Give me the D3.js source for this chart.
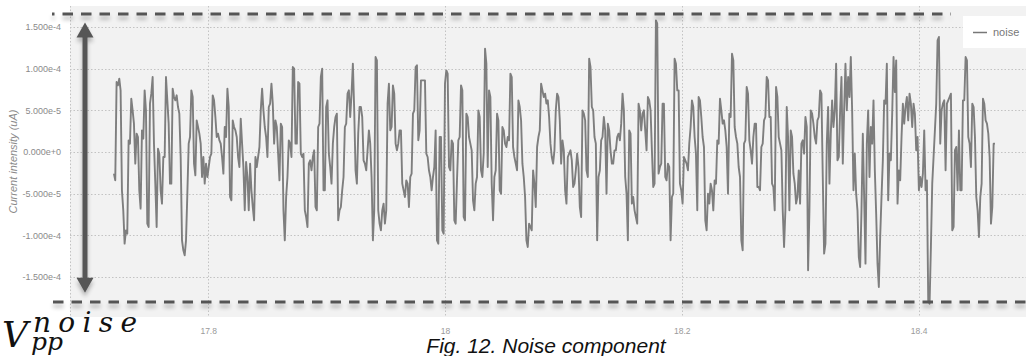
<!DOCTYPE html>
<html><head><meta charset="utf-8">
<script src="https://cdn.jsdelivr.net/npm/d3@7/dist/d3.min.js"></script>
<style>html,body{margin:0;padding:0;background:#fff;}svg{display:block;}</style>
</head><body><svg id="c" width="1026" height="356"></svg>
<script>
// ---- data (current values in units of 1e-5 uA) ----
const seriesName = "noise";
const noiseA = [-2.6,-3.4,8.4,8.0,8.8,7.4,-4.6,-7,-11,-9.4,-9.8,1.4,1,6.4,5,3.4,-1.4,2.2,1.8,-4.6,-6.8,2.6,1.6,7.4,5,-8.6,-9,5.8,7,9,1,-3.8,-9,0.4,-0.2,-4.6,-6.2,-0.6,-0.6,9,6.2,3.4,-3.8,-3.8,7.6,6.6,6.2,6.8,5.4,4.6,-0.6,-10.6,-11.8,-12.4,-10.6,-5,1,1.8,7.4,6.6,-1.4,-2.8,3.8,3,2.2,1,-3,-0.6,-3.8,-1.4,-3,-1.8,-0.6,-0.2,6.8,6.2,4.2,1.8,2.2,1.4,1,-0.6,-2.6,3,1.8,7.6,5.4,-5.4,-5.8,3.8,3,2.6,1.8,-0.6,-1.8,4,1,-1.8,-7,-1.2,-3,-7,-1.4,-4.6,-6.6,-8.2,-0.6,-1.8];
const noiseB = [-0.6,0.6,5,7.6,5,3,1.8,-0.6,5.4,5.8,8.2,5.8,1,3.8,3,-0.2,-3.4,3.4,3,-7,-10.6,-5.4,-3,1.4,1,-0.6,10.2,10,1,1,8.4,8.2,-0.2,-0.6,-0.2,-7,-7.8,-9,-1.4,-1,-2.2,-0.6,0.2,-6.6,-7,3,3.4,9,10,-4.6,-4.6,5.4,6.2,-0.2,-1.8,-3.8,1,3,4.2,4.6,-8.2,-7,-6.6,-4.6,-3,3,3.4,7,7.4,4.2,7,10.6,5,-2.2,-3.8,2.2,5.4,5.4,4.2,-1,-1.4,-2.2,0.2,2.6,1,-3,-10.6,-7,11.4,11,-7,-8.6,-9.4,-7,-6.2,-8.6,-7,5.8,8.2,2.6,3,8,7,1,0.2,1,2.6,2.6,-3.8,-4.6,-5.4];
const noiseC = [-3.4,-3.8,-6.6,-3,-2.6,4.6,5,10.2,10.4,1.4,2.6,8.6,8.6,8.6,8.6,-0.2,-0.6,-2.2,-3,-4.6,-3,-1.8,2.6,-10.6,-11,1.8,1.8,-9.4,-9.8,8.2,9.8,9.4,-1.8,-2.2,1.4,1,-8.2,-8.6,-3.4,1.4,1.8,8,7.4,-7.8,-8.2,4.6,4.2,1.8,1,0.2,-5.8,-7,-3.8,-3,5,4.2,-2.2,-3,-0.2,12.4,10.6,-1.8,7.4,6.6,-3.8,-8.2,-3,-2.2,4.6,3.8,-4.6,-5,3,2.6,1,0.6,1.8,1.4,9.4,9,0.6,-0.6,-1.4,-2.2,6.2,5.4,3.8,-1.4,-3,-5.4,-10.6,-11.4,-8.6,-9,-9.4,-2.2,-3.8,-6.6,0.6,1.8,2.6,8.2,7.4,6.6,7,5.8,6.2,4.2,1,-0.6,-1.4];
const noiseD = [0.2,5,7,6.6,3.8,-1.4,1.4,0.2,-4.6,-6.2,-0.6,-0.2,0.2,-1,-4.2,-3.8,-2.2,-0.2,-1.8,-6.6,-7.8,5,4.6,3.8,-2.2,-3,11.2,10.2,5.4,5,1.8,1,-10.6,-3,-2.2,1.4,1.8,4.2,2.6,-5,3.4,2.6,0.2,-1.4,-1.4,0.2,0.2,1.8,2.2,1.4,3.4,7,5,-3,-5,-10.6,2.6,2.2,-6.2,-5.4,-7,-7.8,-8.6,5.8,5,2.6,4.6,5,2.6,0.2,6.6,6.2,5,0.2,-4.2,-3.8,15.8,15.4,-2.6,-1.8,-1.4,5.8,5.8,-3,-3.4,-1.4,-1.8,-10.6,-5.4,-5,11.2,10.6,7.4,7.4,-3.8,-4.6,-6.2,-0.6,-1,-1.4,-2.2,1,3,6.2,5.4,1.8,-0.2,-7,6.6,6.2,4.2];
const noiseE = [1.8,0.6,-8.2,-9.4,-5,-6.2,-3.8,-4.6,-7,-3.4,-3.8,1.4,1,6.4,5,3.4,3.8,2.6,0.6,-5,4.6,4.2,11.8,11,3,1.8,1,-1.8,-3,-10.6,-11.8,1,1.4,7.8,7,1.4,0.2,-1.4,1.8,3.4,3.4,-4.2,-4.2,-4.6,0.6,1,3.8,4.2,9,8.6,4.2,4.2,-3.8,-4.2,-7,7.8,6.6,1.8,1,0.2,-7,-11.4,-7,5.4,1.8,-7,2.6,1.8,-2.6,-3.8,-6.2,-5.4,-2.2,-6.2,1,1.4,-0.2,4.2,3,-14.2,-7,5,4.6,3.4,1.8,1,3.8,4.2,7.4,7,-3,-12.2,-11,1,5.4,-3.8,2.2,6.2,3,5,10.6,-1,-0.6,5,9,-1.4,5,10.6,5,9,6.6];
const noiseF = [11.4,5,-4.6,-0.2,-5,-7,-12.6,-13.8,-7,2.2,-5.4,-13.4,1,5,-3,3,1,6.2,-2.2,-7.4,-13.4,-16.2,-10.2,-5.4,-1,6.2,5.8,10.6,-5.8,-0.2,-1,4.6,11.4,7.2,11,-6.2,-2.2,-3.4,1.8,5.8,3.4,5.4,6.6,3.8,7,5.8,3,5.8,4.6,0.2,1.8,-4.6,-3,-4.2,-2.6,2.6,-4.6,-3.4,-17.8,-18.2,-11.4,-3.8,-0.6,2.6,5.8,13.4,13.8,1,5,5.8,6.2,-2.2,5.8,6.2,6.6,7,-9.4,-9,0.2,0.6,-4.6,2.6,-4.6,-4.6,6.2,6.2,11.4,11,1.8,1,-1.8,5.8,5.4,1.8,-5.4,-7,-10.2,-5.4,-3.8,6.4,5.8,3.8,3.4,2.2,-0.6,-8.6,-6.6,1,1];
const sampleStart = 17.7204, sampleEnd = 18.4645;   // time of first / last sample
const xTicks = [17.8, 18, 18.2, 18.4];
const xTickLabels = ["17.8", "18", "18.2", "18.4"];
const yTicks = [-1.5e-4, -1e-4, -5e-5, 0, 5e-5, 1e-4, 1.5e-4];
const yTickLabels = ["-1.500e-4", "-1.000e-4", "-5.000e-5", "0.000e+0", "5.000e-5", "1.000e-4", "1.500e-4"];
const vppMax = 1.656e-4, vppMin = -1.80e-4;          // dashed peak-to-peak lines
const arrowTop = 1.555e-4, arrowBottom = -1.69e-4;
const yTitle = "Current intensity (uA)";
const caption = "Fig. 12. Noise component";

// ---- layout ----
const svg = d3.select("#c");
const L = 70, R = 1026, T = 6, B = 317;
const x = d3.scaleLinear().domain([17.6833, 18.4907]).range([L, R]);
const y = d3.scaleLinear().domain([-1.98e-4, 1.752e-4]).range([B, T]);

const values = [].concat(noiseA, noiseB, noiseC, noiseD, noiseE, noiseF).map(v => v * 1e-5);
const n = values.length;
const data = values.map((v, i) => ({t: sampleStart + (sampleEnd - sampleStart) * i / (n - 1), v}));

const defs = svg.append("defs");
const f = defs.append("filter").attr("id", "sh").attr("x", "-10%").attr("y", "-50%").attr("width", "120%").attr("height", "300%");
f.append("feGaussianBlur").attr("in", "SourceAlpha").attr("stdDeviation", 2.2);
f.append("feOffset").attr("dx", 0).attr("dy", 4).attr("result", "b");
f.append("feComponentTransfer").append("feFuncA").attr("type", "linear").attr("slope", 0.28);
const fm = f.append("feMerge"); fm.append("feMergeNode"); fm.append("feMergeNode").attr("in", "SourceGraphic");

svg.append("rect").attr("x", L).attr("y", T).attr("width", R - L).attr("height", B - T).attr("fill", "#f2f2f2");

// grid
const grid = svg.append("g").attr("stroke", "#c3c3c3").attr("stroke-width", 1).attr("stroke-dasharray", "1.5,2");
grid.selectAll("line.h").data(yTicks).join("line").attr("class", "h")
  .attr("x1", L).attr("x2", R).attr("y1", d => Math.round(y(d)) + 0.5).attr("y2", d => Math.round(y(d)) + 0.5);
grid.selectAll("line.v").data([x.domain()[0]].concat(xTicks)).join("line").attr("class", "v")
  .attr("x1", d => Math.round(x(d)) + 0.5).attr("x2", d => Math.round(x(d)) + 0.5).attr("y1", T).attr("y2", B);

// axes (labels only)
const yAxis = svg.append("g").attr("transform", `translate(${L - 6},0)`)
  .call(d3.axisLeft(y).tickValues(yTicks).tickSize(0).tickFormat((d, i) => yTickLabels[i]));
yAxis.select(".domain").remove();
yAxis.selectAll("text").attr("font-family", "Liberation Sans, Arial, sans-serif").attr("font-size", 9).attr("fill", "#8a8a8a");

const xAxis = svg.append("g").attr("transform", `translate(0,${B + 8})`)
  .call(d3.axisBottom(x).tickValues(xTicks).tickSize(0).tickFormat((d, i) => xTickLabels[i]));
xAxis.select(".domain").remove();
xAxis.selectAll("text").attr("font-family", "Liberation Sans, Arial, sans-serif").attr("font-size", 8.5).attr("fill", "#9a9a9a");

svg.append("text").attr("transform", `translate(17,${(T + B) / 2}) rotate(-90)`)
  .attr("text-anchor", "middle").attr("font-family", "Liberation Sans, Arial, sans-serif")
  .attr("font-style", "italic").attr("font-size", 11).attr("fill", "#8a8a8a").text(yTitle);

// series line
svg.append("path").datum(data)
  .attr("d", d3.line().x(d => x(d.t)).y(d => y(d.v)))
  .attr("fill", "none").attr("stroke", "#7e7e7e").attr("stroke-width", 1.9).attr("stroke-linejoin", "round");

// legend
const lg = svg.append("g");
lg.append("rect").attr("x", 963).attr("y", 16).attr("width", 63).attr("height", 32).attr("fill", "#fff");
lg.append("line").attr("x1", 973).attr("x2", 987).attr("y1", 32.5).attr("y2", 32.5).attr("stroke", "#777").attr("stroke-width", 1.5);
lg.append("text").attr("x", 993).attr("y", 36).attr("font-family", "Liberation Sans, Arial, sans-serif")
  .attr("font-size", 11).attr("fill", "#777").text(seriesName);

// peak-to-peak annotation
const ann = svg.append("g").attr("filter", "url(#sh)");
ann.append("line").attr("x1", 52).attr("x2", 951).attr("y1", y(vppMax)).attr("y2", y(vppMax))
  .attr("stroke", "#555").attr("stroke-width", 2.8).attr("stroke-dasharray", "10.5,8").attr("stroke-dashoffset", 8);
ann.append("line").attr("x1", 53).attr("x2", 1026).attr("y1", y(vppMin)).attr("y2", y(vppMin))
  .attr("stroke", "#555").attr("stroke-width", 2.8).attr("stroke-dasharray", "10.5,8");
const ax = 85, ah = 15, aw = 8.5;
const yt = y(arrowTop), yb = y(arrowBottom);
ann.append("line").attr("x1", ax).attr("x2", ax).attr("y1", yt + ah - 1).attr("y2", yb - ah + 1)
  .attr("stroke", "#575757").attr("stroke-width", 5);
ann.append("path").attr("d", `M${ax},${yt} L${ax + aw},${yt + ah} L${ax - aw},${yt + ah} Z`).attr("fill", "#575757");
ann.append("path").attr("d", `M${ax},${yb} L${ax + aw},${yb - ah} L${ax - aw},${yb - ah} Z`).attr("fill", "#575757");

// V_pp^noise label
const lab = svg.append("g").attr("font-family", "DejaVu Serif, serif").attr("font-style", "italic").attr("fill", "#111");
lab.append("text").attr("x", 2).attr("y", 347).attr("font-size", 36).text("V");
lab.append("text").attr("x", 33).attr("y", 332).attr("font-size", 28)
  .attr("textLength", 104).attr("lengthAdjust", "spacing").text("noise");
lab.append("text").attr("x", 31).attr("y", 350).attr("font-size", 25)
  .attr("textLength", 32).attr("lengthAdjust", "spacing").text("pp");

// caption
svg.append("text").attr("x", 546).attr("y", 353).attr("text-anchor", "middle")
  .attr("font-family", "Liberation Sans, Arial, sans-serif").attr("font-style", "italic")
  .attr("font-size", 21).attr("fill", "#111").text(caption);
</script></body></html>
